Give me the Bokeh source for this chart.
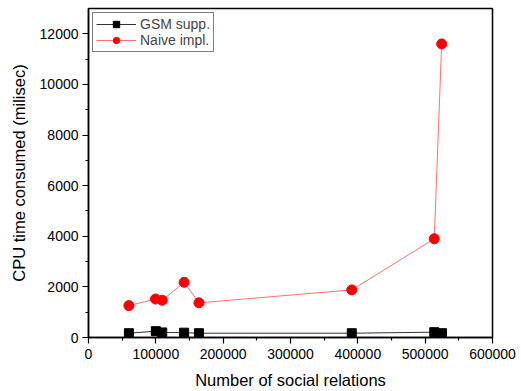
from bokeh.plotting import figure
from bokeh.models import Range1d, FixedTicker, Legend, LegendItem
from bokeh.embed import file_html
from bokeh.resources import INLINE

x_gsm = [60000, 100000, 109500, 142000, 164000, 391000, 513500, 525000]
y_gsm = [170, 250, 200, 190, 170, 170, 210, 170]
x_naive = [60000, 99500, 109500, 142000, 164000, 391000, 513500, 524500]
y_naive = [1260, 1520, 1470, 2180, 1370, 1880, 3900, 11600]

x_ticks = [0, 100000, 200000, 300000, 400000, 500000, 600000]
y_ticks = [0, 2000, 4000, 6000, 8000, 10000, 12000]

FONT = "Liberation Sans"

p = figure(width=521, height=391, output_backend="svg", toolbar_location=None,
           x_range=Range1d(0, 600000), y_range=Range1d(0, 13000),
           min_border_left=88, min_border_right=29, min_border_top=8, min_border_bottom=54)
p.xgrid.visible = False
p.ygrid.visible = False
p.outline_line_color = "black"
p.outline_line_width = 1.5

p.xaxis.ticker = FixedTicker(ticks=x_ticks, minor_ticks=[50000, 150000, 250000, 350000, 450000, 550000])
p.yaxis.ticker = FixedTicker(ticks=y_ticks, minor_ticks=[1000, 3000, 5000, 7000, 9000, 11000])
p.xaxis.formatter.use_scientific = False
p.yaxis.formatter.use_scientific = False
for ax in (p.xaxis[0], p.yaxis[0]):
    ax.axis_line_width = 1.5
    ax.major_tick_line_width = 1.2
    ax.minor_tick_line_width = 1.2
    ax.major_tick_out = 6
    ax.major_tick_in = 0
    ax.minor_tick_out = 3
    ax.minor_tick_in = 0
    ax.major_label_text_font = FONT
    ax.major_label_text_font_size = "14px"
    ax.major_label_text_color = "black"
    ax.axis_label_text_font = FONT
    ax.axis_label_text_font_size = "16.5px"
    ax.axis_label_text_font_style = "normal"
    ax.axis_label_text_color = "black"
p.xaxis.axis_label = "Number of social relations"
p.yaxis.axis_label = "CPU time consumed (milisec)"
p.yaxis.major_label_orientation = "horizontal"
p.xaxis.axis_label_standoff = 9
p.yaxis.axis_label_standoff = 9
p.xaxis.major_label_standoff = 5
p.yaxis.major_label_standoff = 4

l1 = p.line(x_gsm, y_gsm, line_color="#333333", line_width=1)
m1 = p.scatter(x_gsm, y_gsm, marker="square", size=9, fill_color="black", line_color="black")
l2 = p.line(x_naive, y_naive, line_color="#ff7070", line_width=1)
m2 = p.scatter(x_naive, y_naive, marker="circle", size=10, fill_color="#ff0000", line_color="#ff0000")

legend = Legend(items=[LegendItem(label="GSM supp.", renderers=[l1, m1]),
                       LegendItem(label="Naive impl.", renderers=[l2, m2])],
                location="top_left")
legend.label_text_font = FONT
legend.label_text_font_size = "14px"
legend.border_line_color = "black"
legend.border_line_width = 1
legend.margin = 4
legend.padding = 3
legend.spacing = 0
legend.glyph_width = 40
legend.glyph_height = 16
legend.label_height = 16
legend.label_standoff = 4
p.add_layout(legend)

open("out.html", "w").write(file_html(p, INLINE))
